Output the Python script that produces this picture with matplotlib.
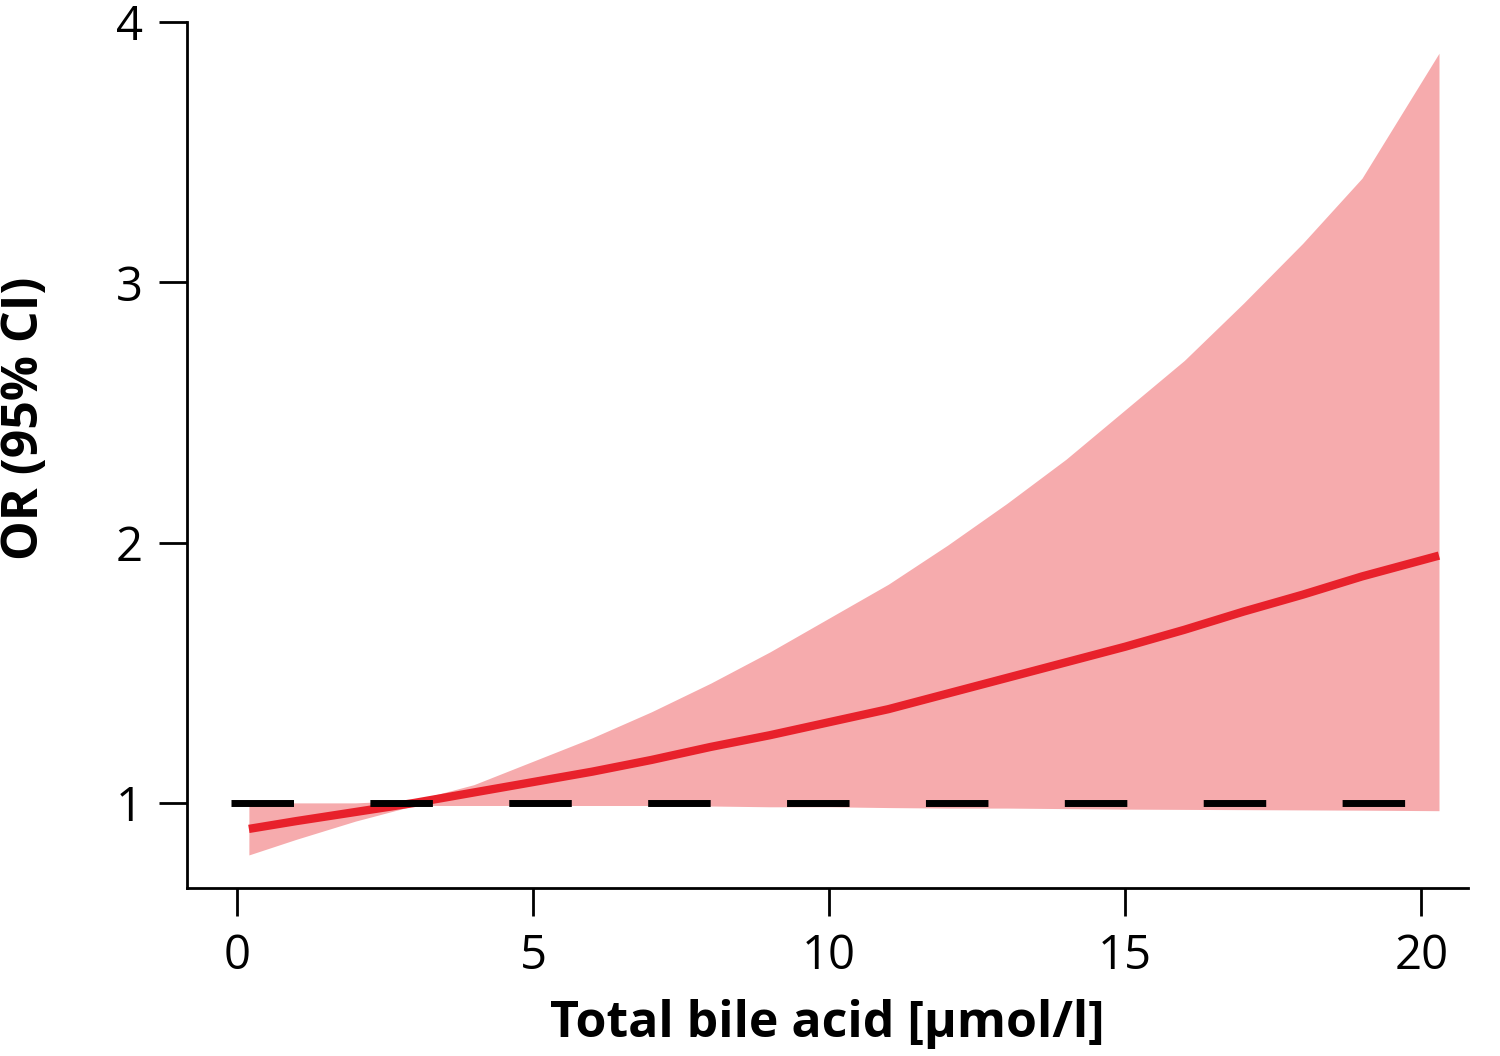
import matplotlib
matplotlib.use("Agg")
import matplotlib.pyplot as plt

x = [0.2, 1, 2, 3, 4, 5, 6, 7, 8, 9, 10, 11, 12, 13, 14, 15, 16, 17, 18, 19, 20.3]
est = [0.9, 0.93, 0.965, 1.0, 1.04, 1.08, 1.12, 1.165, 1.215, 1.26, 1.31, 1.36, 1.42, 1.48, 1.54, 1.6, 1.665, 1.735, 1.8, 1.87, 1.95]
upper = [1.0, 1.0, 1.0, 1.01, 1.07, 1.16, 1.25, 1.35, 1.46, 1.58, 1.71, 1.84, 1.99, 2.15, 2.32, 2.51, 2.7, 2.92, 3.15, 3.4, 3.88]
lower = [0.8, 0.86, 0.93, 0.99, 0.99, 0.99, 0.99, 0.99, 0.988, 0.985, 0.985, 0.982, 0.98, 0.98, 0.978, 0.976, 0.975, 0.974, 0.973, 0.972, 0.97]
xticks = [0, 5, 10, 15, 20]
yticks = [1, 2, 3, 4]

plt.rcParams['font.family'] = ['Open Sans', 'DejaVu Sans']
fig = plt.figure(figsize=(15, 10.56), dpi=100)
ax = fig.add_axes([187/1500, 1-888/1056, (1468-187)/1500, (888-22)/1056])
ax.fill_between(x, lower, upper, color='#f6abad', lw=0)
ax.plot(x, est, color='#e8212b', lw=6, solid_capstyle='butt')
ax.axhline(1, xmin=(-0.1+0.845)/(20.79+0.845), xmax=(20.4+0.845)/(20.79+0.845),
           color='black', lw=5, dashes=(9, 11))
ax.set_xlim(-0.845, 20.79)
ax.set_ylim(0.673, 4.0)
ax.set_xticks(xticks)
ax.set_yticks(yticks)
ax.tick_params(labelsize=34, length=20, width=2, pad=12)
for s in ['top', 'right']:
    ax.spines[s].set_visible(False)
for s in ['left', 'bottom']:
    ax.spines[s].set_linewidth(2)
ax.set_xlabel('Total bile acid [µmol/l]', fontsize=36, fontweight='bold', labelpad=14)
fig.text(25/1500, 1-418/1056, 'OR (95% CI)', fontsize=36, fontweight='bold',
         rotation=90, ha='center', va='center')
fig.savefig('out.png', dpi=100)
